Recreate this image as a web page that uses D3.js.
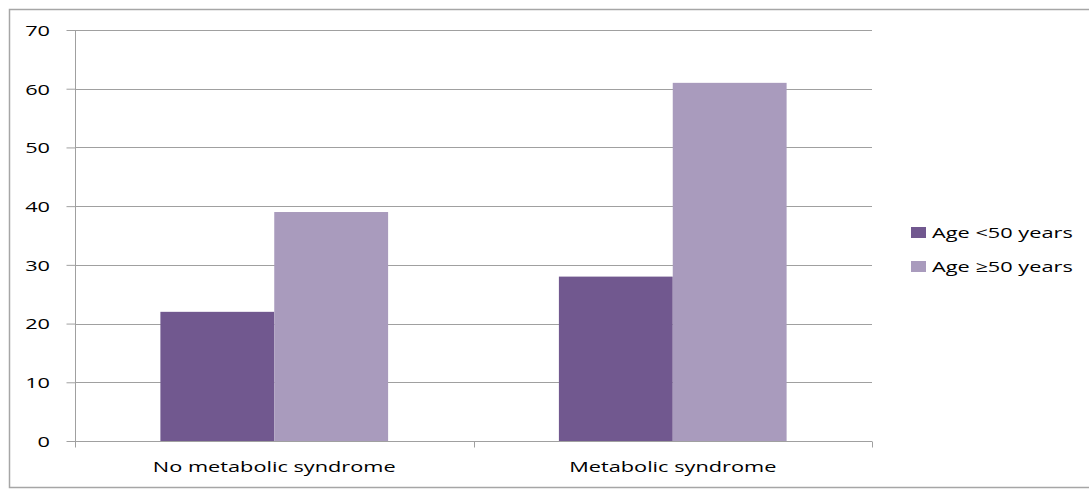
<!DOCTYPE html>
<html>
<head>
<meta charset="utf-8">
<script src="https://cdn.jsdelivr.net/npm/d3@7"></script>
<style>
  html, body { margin: 0; padding: 0; background: #fff; }
  svg text { font-family: "Open Sans", "Liberation Sans", sans-serif; fill: #000; font-weight: 500; }
</style>
</head>
<body>
<svg id="chart" width="1089" height="489"></svg>
<script>
const categories = ["No metabolic syndrome", "Metabolic syndrome"];
const seriesNames = ["Age <50 years", "Age \u226550 years"];
const youngerValues = [22, 28];
const olderValues = [39, 61];
const yTicks = [0, 10, 20, 30, 40, 50, 60, 70];
const colors = ["#71588f", "#a99bbd"];

// text is drawn horizontally widened
const STRETCH = 1.45;
const FONT = 15;

const svg = d3.select("#chart");

// outer chart frame
svg.append("rect")
  .attr("x", 9.5).attr("y", 9.5)
  .attr("width", 1085).attr("height", 478)
  .attr("fill", "#fff").attr("stroke", "#a6a6a6").attr("stroke-width", 1.5);

const plot = { left: 75, right: 872, top: 30, bottom: 441 };

const x = d3.scaleBand().domain(categories).range([plot.left, plot.right]).paddingInner(0).paddingOuter(0);
const bandPad = x.bandwidth() * (1.5 / 3.5) / 2;
const xSeries = d3.scaleBand().domain(d3.range(seriesNames.length))
  .range([bandPad, x.bandwidth() - bandPad]).padding(0);
const y = d3.scaleLinear().domain([0, 70]).range([plot.bottom, plot.top]);

// horizontal gridlines
svg.append("g").selectAll("line").data(yTicks.filter(t => t > 0)).join("line")
  .attr("x1", plot.left).attr("x2", plot.right)
  .attr("y1", d => Math.round(y(d)) + 0.5).attr("y2", d => Math.round(y(d)) + 0.5)
  .attr("stroke", "#a0a0a0").attr("stroke-width", 1);

// bars
const rows = categories.map((c, i) => ({ cat: c, vals: [youngerValues[i], olderValues[i]] }));
const groups = svg.append("g").selectAll("g").data(rows).join("g")
  .attr("transform", d => `translate(${x(d.cat)},0)`);
groups.selectAll("rect").data(d => d.vals.map((v, s) => ({ v, s }))).join("rect")
  .attr("x", d => xSeries(d.s))
  .attr("width", xSeries.bandwidth())
  .attr("y", d => y(d.v))
  .attr("height", d => y(0) - y(d.v))
  .attr("fill", d => colors[d.s]);

// y axis
const yAxis = svg.append("g").attr("transform", `translate(${plot.left + 0.5},0)`)
  .call(d3.axisLeft(y).tickValues(yTicks).tickSize(9));
yAxis.select(".domain").attr("stroke", "#a0a0a0").attr("d", `M0,${plot.top}V${plot.bottom + 6}`);
yAxis.selectAll(".tick line").attr("stroke", "#a0a0a0");
yAxis.selectAll(".tick text")
  .attr("x", null).attr("dy", "0.36em")
  .attr("transform", `translate(-25.5,0) scale(${STRETCH},1)`)
  .attr("font-size", FONT).attr("font-family", null).attr("fill", "#000");

// x axis with boundary ticks
const xAxisG = svg.append("g").attr("transform", `translate(0,${plot.bottom + 0.5})`);
xAxisG.append("line").attr("x1", plot.left).attr("x2", plot.right)
  .attr("stroke", "#a0a0a0");
const bounds = [...categories.map(c => x(c)), x(categories[categories.length - 1]) + x.bandwidth()];
xAxisG.selectAll("line.bt").data(bounds).join("line").attr("class", "bt")
  .attr("x1", d => Math.round(d) + 0.5).attr("x2", d => Math.round(d) + 0.5)
  .attr("y1", 0).attr("y2", 6).attr("stroke", "#a0a0a0");
xAxisG.selectAll("text").data(categories).join("text")
  .attr("transform", d => `translate(${x(d) + x.bandwidth() / 2},30) scale(${STRETCH},1)`)
  .attr("text-anchor", "middle")
  .attr("font-size", FONT)
  .text(d => d);

// legend
const legend = svg.append("g").attr("transform", "translate(911,227)");
const li = legend.selectAll("g").data(seriesNames).join("g")
  .attr("transform", (d, i) => `translate(0,${i * 34})`);
li.append("rect").attr("width", 15).attr("height", 11).attr("fill", (d, i) => colors[i]);
li.append("text")
  .attr("transform", `translate(21,10.5) scale(${STRETCH},1)`)
  .attr("font-size", FONT).text(d => d);
</script>
</body>
</html>
